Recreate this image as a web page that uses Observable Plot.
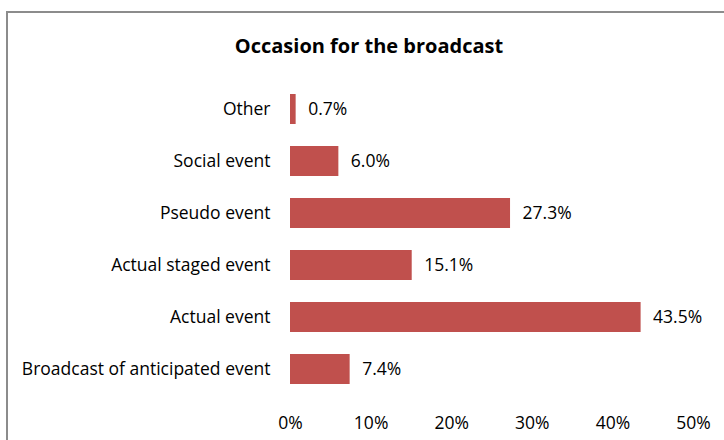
<!DOCTYPE html>
<html>
<head>
<meta charset="utf-8">
<script src="https://cdn.jsdelivr.net/npm/d3@7"></script>
<script src="https://cdn.jsdelivr.net/npm/@observablehq/plot@0.6"></script>
<style>
  html, body { margin: 0; padding: 0; background: #fff; }
  #wrap { position: relative; width: 724px; height: 440px; overflow: hidden; font-family: "Open Sans", sans-serif; }
  #border { position: absolute; left: 6px; top: 11px; width: 760px; height: 480px; border: 2px solid #8c8c8c; box-sizing: border-box; pointer-events: none; }
  #title { height: 70px; box-sizing: border-box; padding-top: 33px; padding-left: 14px; line-height: 26px; text-align: center; font-weight: bold; font-size: 20px; color: #000; }
  svg { display: block; }
</style>
</head>
<body>
<div id="wrap">
  <div id="border"></div>
  <div id="title">Occasion for the broadcast</div>
  <div id="chart"></div>
</div>
<script>
const categories = ["Other", "Social event", "Pseudo event", "Actual staged event", "Actual event", "Broadcast of anticipated event"];
const values = [0.7, 6.0, 27.3, 15.1, 43.5, 7.4];
const xTicks = [0, 10, 20, 30, 40, 50];

const data = categories.map((c, i) => ({category: c, value: values[i]}));

const chart = Plot.plot({
  width: 724,
  height: 370,
  marginTop: 12,
  marginBottom: 44,
  marginLeft: 290,
  marginRight: 31,
  style: {fontFamily: "'Open Sans', sans-serif", fontSize: "17.5px", color: "#000", background: "transparent"},
  x: {domain: [0, 50]},
  y: {domain: categories, paddingInner: 0.427, paddingOuter: 0.2135},
  marks: [
    Plot.barX(data, {x: "value", y: "category", fill: "#C0504D"}),
    Plot.text(data, {x: "value", y: "category", text: d => d.value.toFixed(1) + "%", textAnchor: "start", dx: 12, fontSize: 17.5, fill: "#000"}),
    Plot.axisY({tickSize: 0, tickPadding: 20, line: true, stroke: "#8c8c8c", fill: "#000", fontSize: 17.5, label: null}),
    Plot.axisX({ticks: xTicks, tickSize: 0, tickPadding: 20, line: true, stroke: "#8c8c8c", fill: "#000", fontSize: 17.5, label: null, tickFormat: d => d + "%"})
  ]
});
document.getElementById("chart").appendChild(chart);
</script>
</body>
</html>
